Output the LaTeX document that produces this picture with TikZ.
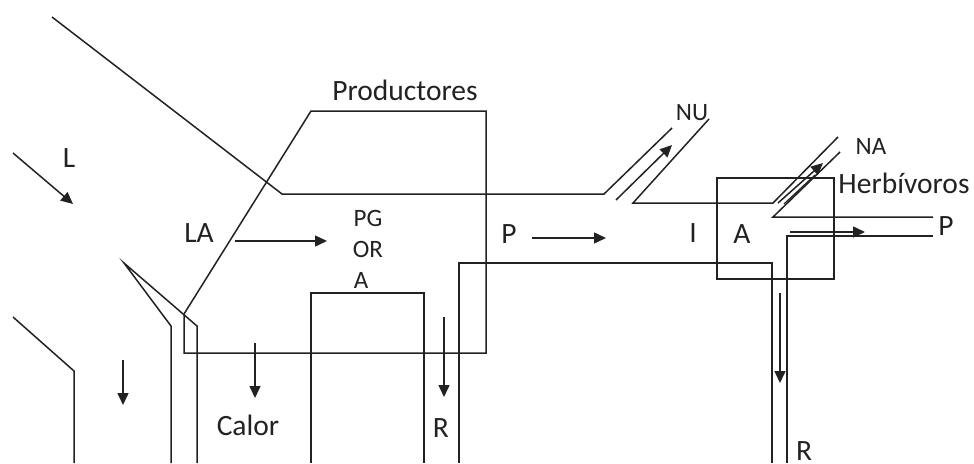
\documentclass[tikz,border=0pt]{standalone}
\usepackage{fontspec}
\setmainfont{Carlito}
\usetikzlibrary{arrows.meta}
\definecolor{ink}{HTML}{222222}
\tikzset{
  edge/.style={draw=ink, line width=1.5pt, line join=miter},
  flow/.style={draw=ink, line width=1.5pt, -{Triangle[length=12pt,width=11pt]}},
  big/.style={font=\fontsize{29.5}{31}\selectfont, text=ink, anchor=base, inner sep=0pt},
  small/.style={font=\fontsize{25}{27}\selectfont, text=ink, anchor=base, inner sep=0pt}
}
\begin{document}
\begin{tikzpicture}[x=1pt,y=-1pt]
\useasboundingbox (0,0) rectangle (974,463);

% upper channel to NU
\draw[edge] (52,17) -- (282,194) -- (604,194) -- (672,128);
\draw[edge] (709,119) -- (633,203) -- (773,203) -- (838,137);
\draw[edge] (840,152) -- (773,217) -- (933,217);

% Herbivoros box and outputs
\draw[edge] (717,178) rectangle (834,279);
\draw[edge] (933,236) -- (787,236) -- (787,463);
\draw[edge] (459,463) -- (459,263) -- (772,263) -- (772,463);

% Productores
\draw[edge] (184,353) -- (184,314) -- (311,111) -- (486,111) -- (486,353) -- cycle;
\draw[edge] (311,463) -- (311,293) -- (424,293) -- (424,463);

% left pieces
\draw[edge] (13,317) -- (74,371) -- (74,463);
\draw[edge] (171,463) -- (171,326) -- (124,263) -- (197,326) -- (197,463);

% arrow end points
\coordinate (nu1) at (616,200); \coordinate (nu2) at (672,145);
\coordinate (na1) at (778,203); \coordinate (na2) at (823,163);
\coordinate (na3) at (784,204); \coordinate (na4) at (815,175);
\coordinate (hp1) at (790,232); \coordinate (hp2) at (865,232);
\coordinate (hr1) at (780,293); \coordinate (hr2) at (780,383);
\coordinate (pr1) at (444,317); \coordinate (pr2) at (444,397);
\coordinate (d1) at (123,360); \coordinate (d2) at (123,405);
\coordinate (c1) at (255,343); \coordinate (c2) at (255,398);
\coordinate (l1) at (13,153); \coordinate (l2) at (73,204);
\coordinate (la1) at (235,241); \coordinate (la2) at (327,241);
\coordinate (p1) at (532,238); \coordinate (p2) at (606,238);

\draw[flow] (nu1) -- (nu2);
\draw[flow] (na1) -- (na2);
\draw[edge, line width=1.2pt] (na3) -- (na4);
\draw[flow] (hp1) -- (hp2);
\draw[flow] (hr1) -- (hr2);
\draw[flow] (pr1) -- (pr2);
\draw[flow] (d1) -- (d2);
\draw[flow] (c1) -- (c2);
\draw[flow] (l1) -- (l2);
\draw[flow] (la1) -- (la2);
\draw[flow] (p1) -- (p2);

% labels
\node[big] (tprod) at (405,100) {Productores};
\node[big] (tL) at (69,167) {L};
\node[big] (tLA) at (199,242) {LA};
\node[small] (tPG) at (368,226) {PG};
\node[small] (tOR) at (368,257) {OR};
\node[small] (tA1) at (361,288) {A};
\node[big] (tP1) at (509,243) {P};
\node[small] (tNU) at (692,120) {NU};
\node[small] (tNA) at (871,154) {NA};
\node[big] (therb) at (904,193) {Herbívoros};
\node[big] (tI) at (693,242) {I};
\node[big] (tA2) at (742,243) {A};
\node[big] (tP2) at (946,235) {P};
\node[big] (tcalor) at (248,435) {Calor};
\node[big] (tR1) at (441,437) {R};
\node[big] (tR2) at (804,460) {R};
\end{tikzpicture}
\end{document}
